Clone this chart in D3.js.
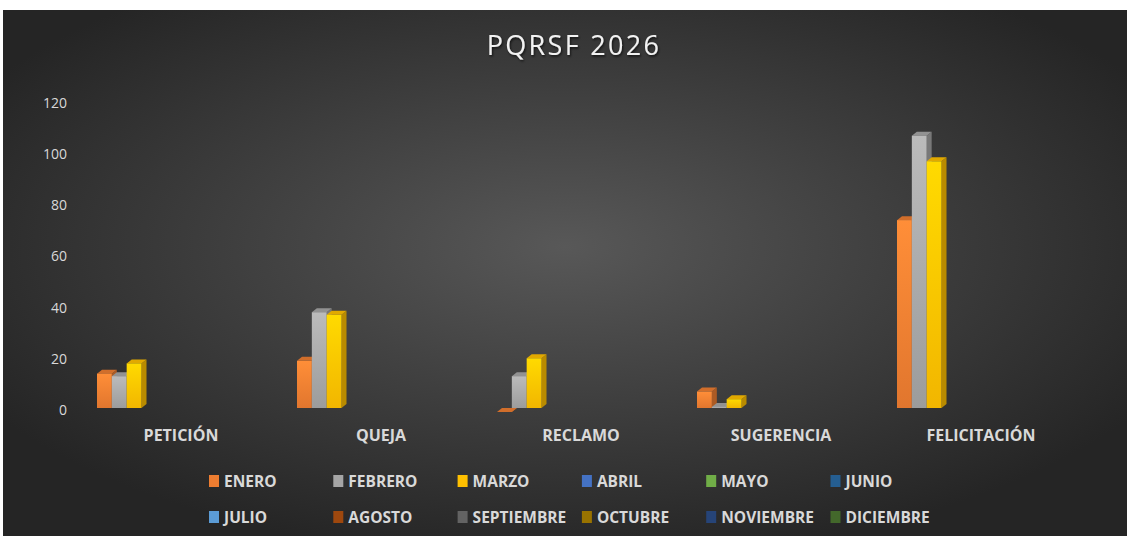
<!DOCTYPE html>
<html>
<head>
<meta charset="utf-8">
<script src="https://cdn.jsdelivr.net/npm/d3@7"></script>
<style>
  body { margin: 0; background: #fff; }
  svg { display: block; font-family: "Open Sans", "Noto Sans", sans-serif; }
</style>
</head>
<body>
<div class="content"></div>
<script>
var categories = ["PETICIÓN", "QUEJA", "RECLAMO", "SUGERENCIA", "FELICITACIÓN"];
var months = ["ENERO", "FEBRERO", "MARZO", "ABRIL", "MAYO", "JUNIO",
              "JULIO", "AGOSTO", "SEPTIEMBRE", "OCTUBRE", "NOVIEMBRE", "DICIEMBRE"];
var monthColors = ["#ED7D31", "#A5A5A5", "#FFC000", "#4472C4", "#70AD47", "#255E91",
                   "#5B9BD5", "#9E480E", "#636363", "#997300", "#264478", "#43682B"];
// values per month, in category order (only three months filled)
var enero   = [15, 20, 0, 8, 75];
var febrero = [14, 39, 14, 2, 108];
var marzo   = [19, 38, 21, 5, 98];
var yTicks  = [0, 20, 40, 60, 80, 100, 120];

var series = [enero, febrero, marzo];

var W = 1131, H = 536;
var svg = d3.select('.content').append("svg").attr("width", W).attr("height", H);
var defs = svg.append("defs");

var bg = defs.append("radialGradient").attr("id", "bg")
  .attr("cx", "50%").attr("cy", "45%").attr("r", "60%");
bg.append("stop").attr("offset", "0%").attr("stop-color", "#585858");
bg.append("stop").attr("offset", "100%").attr("stop-color", "#252525");

svg.append("rect").attr("x", 3).attr("y", 10).attr("width", 1124).attr("height", 526)
  .attr("fill", "url(#bg)");

// front face gradients, one per colour
monthColors.forEach(function(c, i) {
  var g = defs.append("linearGradient").attr("id", "f" + i)
    .attr("x1", 0).attr("y1", 0).attr("x2", 0).attr("y2", 1);
  g.append("stop").attr("offset", "0%").attr("stop-color", d3.color(c).brighter(0.35));
  g.append("stop").attr("offset", "100%").attr("stop-color", d3.color(c).darker(0.15));
});

var shadow = defs.append("filter").attr("id", "ts");
shadow.append("feDropShadow").attr("dx", 1).attr("dy", 1.5).attr("stdDeviation", 1)
  .attr("flood-color", "#000").attr("flood-opacity", 0.7);

svg.append("text").attr("x", 574).attr("y", 55).attr("text-anchor", "middle")
  .attr("fill", "#f2f2f2").attr("font-size", 27).attr("letter-spacing", 2.3)
  .attr("filter", "url(#ts)").text("PQRSF 2026");

var x = d3.scaleBand().domain(categories).range([80, 1080]);
var xs = d3.scaleBand().domain(months).range([17, 195]);
var y = d3.scaleLinear().domain([0, 120]).range([408, 101]);

var yAxis = svg.append("g").attr("transform", "translate(67,2)")
  .call(d3.axisLeft(y).tickValues(yTicks).tickSize(0).tickPadding(0));
yAxis.select(".domain").remove();
yAxis.selectAll("text").attr("fill", "#d9d9d9").attr("font-size", 14)
  .attr("font-family", "Open Sans, sans-serif");

var xAxis = svg.append("g").attr("transform", "translate(1,430)")
  .call(d3.axisBottom(x).tickSize(0).tickPadding(0));
xAxis.select(".domain").remove();
xAxis.selectAll("text").attr("fill", "#d9d9d9").attr("font-size", 16)
  .attr("font-weight", "bold").attr("font-family", "Open Sans, sans-serif");

var dx = 5, dy = 4;
var bars = svg.append("g");
series.forEach(function(vals, si) {
  var c = monthColors[si];
  vals.forEach(function(v, ci) {
    var x0 = x(categories[ci]) + xs(months[si]);
    var w = xs.bandwidth();
    var top = y(v) + dy;
    var base = y(0);
    var g = bars.append("g");
    g.append("polygon")
      .attr("points", [[x0 + w, top], [x0 + w + dx, top - dy], [x0 + w + dx, base - dy], [x0 + w, base]].join(" "))
      .attr("fill", d3.color(c).darker(0.9));
    g.append("polygon")
      .attr("points", [[x0, top], [x0 + dx, top - dy], [x0 + w + dx, top - dy], [x0 + w, top]].join(" "))
      .attr("fill", d3.color(c).darker(0.35));
    g.append("rect").attr("x", x0).attr("y", top).attr("width", w).attr("height", Math.max(0, base - top))
      .attr("fill", "url(#f" + si + ")");
  });
});

var legend = svg.append("g");
months.forEach(function(m, i) {
  var col = i % 6, row = Math.floor(i / 6);
  var lx = 209 + col * 124.3, ly = 481 + row * 36;
  var g = legend.append("g").attr("transform", "translate(" + lx + "," + ly + ")");
  g.append("rect").attr("x", 0).attr("y", -6).attr("width", 10).attr("height", 12)
    .attr("fill", monthColors[i]);
  g.append("text").attr("x", 15).attr("y", 6).attr("fill", "#d9d9d9")
    .attr("font-size", 15.5).attr("font-weight", "bold").text(m);
});
</script>
</body>
</html>
